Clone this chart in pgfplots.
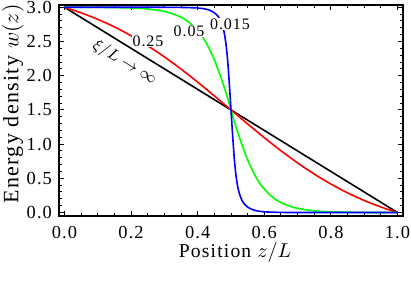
\documentclass[border=0pt]{standalone}
\usepackage{fontspec}
\setmainfont{Liberation Serif}[LetterSpace=6]
\usepackage{pgfplots}
\pgfplotsset{compat=1.18}
\definecolor{cRed}{rgb}{1,0,0}
\definecolor{cGreen}{rgb}{0,1,0}
\definecolor{cBlue}{rgb}{0,0,1}
\begin{document}
\begin{tikzpicture}
\begin{axis}[name=ax, scale only axis, width=172pt, height=105.65pt,
  font=\fontsize{9.2}{11}\selectfont,
  xmin=-0.0165, xmax=1.0165, ymin=-0.051, ymax=3.038,
  xtick={0,0.2,0.4,0.6,0.8,1.0}, ytick={0,0.5,1.0,1.5,2.0,2.5,3.0},
  minor x tick num=3, minor y tick num=4,
  tick align=inside, major tick length=2.5pt, minor tick length=1.5pt,
  axis line style={line width=0.9pt},
  every tick/.style={line width=0.5pt, black},
  /pgf/number format/fixed, /pgf/number format/fixed zerofill,
  /pgf/number format/precision=1, /pgf/number format/assume math mode=true,
  xticklabel style={yshift=-1.5pt},
  xlabel={Position $z/L$}, ylabel={Energy density $w(z)$},
  xlabel style={font=\fontsize{9.8}{11}\selectfont, at={(axis description cs:0.5116,0)}, anchor=base, yshift=-20.5pt},
  ylabel style={font=\fontsize{11}{12}\selectfont, at={(axis description cs:-0.1337,0.53)}, anchor=center},
  every axis plot/.append style={line width=0.8pt, no marks},
]
\addplot[black] coordinates {(0,3) (1,0)};
\addplot[cRed, smooth] coordinates {
(0,3.0) (0.05,2.919) (0.10,2.824) (0.15,2.713) (0.20,2.584) (0.25,2.438)
(0.30,2.275) (0.35,2.097) (0.40,1.906) (0.45,1.705) (0.50,1.500) (0.55,1.295)
(0.60,1.094) (0.65,0.903) (0.70,0.725) (0.75,0.562) (0.80,0.416) (0.85,0.287)
(0.90,0.176) (0.95,0.081) (1.00,0.0)};
\addplot[cGreen, smooth] coordinates {
(0,3.0) (0.1,2.999) (0.2,2.99) (0.25,2.975) (0.30,2.94) (0.33,2.895) (0.35,2.855)
(0.37,2.795) (0.39,2.71) (0.41,2.60) (0.43,2.44) (0.45,2.23) (0.47,1.97) (0.49,1.67)
(0.50,1.50) (0.51,1.33) (0.53,1.03) (0.55,0.77) (0.57,0.56) (0.59,0.40) (0.61,0.29)
(0.63,0.205) (0.65,0.145) (0.67,0.105) (0.70,0.06) (0.75,0.025) (0.80,0.01)
(0.90,0.001) (1.0,0)};
\addplot[cBlue, smooth, tension=0.4] coordinates {
(0,3.0) (0.30,3.0) (0.36,2.997) (0.40,2.99) (0.42,2.978) (0.43,2.966) (0.44,2.948)
(0.45,2.92) (0.46,2.875) (0.465,2.84) (0.47,2.79) (0.475,2.72) (0.48,2.62)
(0.485,2.46) (0.49,2.22) (0.495,1.88) (0.50,1.50) (0.505,1.12) (0.51,0.78)
(0.515,0.54) (0.52,0.38) (0.525,0.28) (0.53,0.21) (0.535,0.16) (0.54,0.125)
(0.55,0.08) (0.56,0.052) (0.57,0.034) (0.58,0.022) (0.60,0.01) (0.64,0.003)
(0.70,0.0) (1.0,0.0)};
\node[fill=white, inner sep=0.5pt, font=\fontsize{8}{9}\selectfont] at (axis cs:0.2508,2.507) {0.25};
\node[fill=white, inner sep=0.5pt, font=\fontsize{8}{9}\selectfont] at (axis cs:0.374,2.653) {0.05};
\node[fill=white, inner sep=0.5pt, font=\fontsize{8}{9}\selectfont] at (axis cs:0.497,2.756) {0.015};
\node[rotate=-31.6, inner sep=0pt, font=\fontsize{8}{9}\selectfont] at (axis cs:0.181,2.19) {$\xi/L\to\infty$};
\end{axis}
\pgfresetboundingbox
\path (ax.south west) ++(-29.5pt,-34.5pt) rectangle ++(205.5pt,142.5pt);
\end{tikzpicture}
\end{document}
